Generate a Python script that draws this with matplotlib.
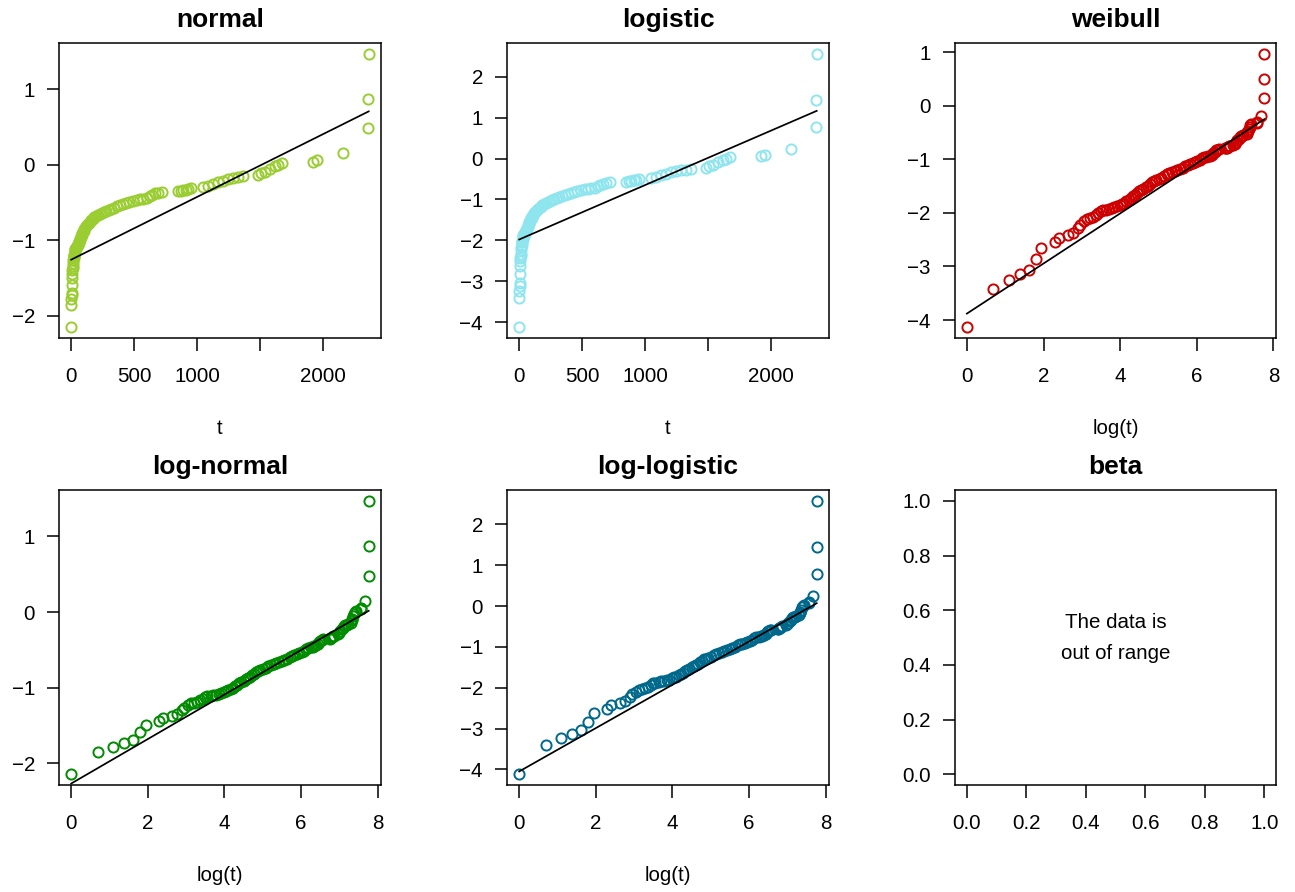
from statistics import NormalDist

import matplotlib
matplotlib.use('Agg')
import matplotlib.pyplot as plt
import numpy as np

plt.rcParams['font.family'] = ['Liberation Sans', 'DejaVu Sans']

# observed times and estimated cumulative probability at each time
t = [1, 2, 3, 4, 5, 6, 7, 10, 11, 14, 16, 18, 19, 21, 23, 25,
     27, 29, 31, 33, 35, 38, 41, 44, 47, 50,
     54, 57, 60, 64, 68, 72, 76, 80, 85, 90,
     95, 100, 106, 112, 118, 125, 132, 140, 150, 160,
     172, 185, 198, 212, 227, 243, 260, 280, 300, 320,
     340, 362, 385, 410, 435, 460, 490, 520,
     546, 572, 599, 625, 645, 665, 691, 718,
     850, 870, 889, 910, 929, 955,
     1047, 1087, 1127, 1166, 1206, 1245, 1285, 1325, 1364,
     1483, 1509, 1536, 1575, 1615, 1641, 1675,
     1923, 1950, 2156, 2353, 2357, 2361]
cdf = [.0160, .0319, .0377, .0420, .0454, .0557, .0676, .0751, .0811, .0851, .0892,
       .0973, .1029, .1089, .1141, .1153,
       .1175, .1219, .1266, .1314, .1326, .1339, .1364, .1376, .1402, .1415,
       .1455, .1482, .1510, .1552, .1581, .1640, .1685, .1732, .1779, .1828,
       .1878, .1913, .1965, .2018, .2073, .2129, .2167, .2205, .2244, .2304,
       .2365, .2428, .2470, .2513, .2557, .2601, .2646, .2692, .2761, .2808,
       .2856, .2905, .2954, .3003, .3054, .3130, .3170, .3200,
       .3228, .3262, .3300, .3372, .3446, .3520, .3557, .3594,
       .3632, .3650, .3669, .3707, .3745, .3783,
       .3840, .3897, .3994, .4090, .4168, .4247, .4305, .4337, .4388,
       .4443, .4562, .4641, .4773, .4920, .5000, .5080,
       .5160, .5227, .5596, .6844, .8078, .9292]

# fitted models: location / scale on the t or log(t) axis
model_names = ['normal', 'logistic', 'weibull', 'log-normal', 'log-logistic']
model_loc = [1512.6, 1484.0, 8.302, 7.708, 7.634]
model_scale = [1203.5, 749.2, 2.140, 3.40, 1.885]
model_colors = ['#9ACD32', '#8EE5EE', '#CD0000', '#008B00', '#00688B']


def q_normal(p):
    return np.array([NormalDist().inv_cdf(v) for v in p])


def q_logistic(p):
    return np.log(p / (1 - p))


def q_sev(p):
    return np.log(-np.log(1 - p))


def padded(v, frac=0.04):
    lo, hi = np.min(v), np.max(v)
    pad = (hi - lo) * frac
    return lo - pad, hi + pad


def style_axes(ax):
    for s in ax.spines.values():
        s.set_linewidth(1.1)
    ax.tick_params(axis='both', direction='out', length=9, width=1.1,
                   labelsize=14.8)
    ax.tick_params(axis='x', pad=12)
    ax.tick_params(axis='y', pad=8.5)


def main():
    W, H = 1295, 892
    fig = plt.figure(figsize=(W / 100, H / 100), dpi=100)

    lefts = [59.3, 507.3, 955.0]
    bottoms = [337.8, 785.2]
    aw, ah = 321.3, 295.2

    tt = np.array(t, dtype=float)
    pp = np.array(cdf)
    quant = {'normal': q_normal, 'logistic': q_logistic, 'weibull': q_sev,
             'log-normal': q_normal, 'log-logistic': q_logistic}
    on_log = {'normal': False, 'logistic': False, 'weibull': True,
              'log-normal': True, 'log-logistic': True}
    yticks = {'normal': np.arange(-2, 2), 'logistic': np.arange(-4, 3),
              'weibull': np.arange(-4, 2), 'log-normal': np.arange(-2, 2),
              'log-logistic': np.arange(-4, 3)}

    axes = []
    for i in range(6):
        r, c = divmod(i, 3)
        ax = fig.add_axes([lefts[c] / W, 1 - bottoms[r] / H, aw / W, ah / H])
        style_axes(ax)
        axes.append(ax)

    for i, name in enumerate(model_names):
        ax = axes[i]
        x = np.log(tt) if on_log[name] else tt
        y = quant[name](pp)
        ax.plot(x, y, 'o', mfc='none', mec=model_colors[i], ms=7.3, mew=1.4)
        xl = np.array([x.min(), x.max()])
        ax.plot(xl, (xl - model_loc[i]) / model_scale[i], color='black', lw=1.25)
        ax.set_xlim(*padded(x))
        ax.set_ylim(*padded(y))
        if on_log[name]:
            ax.set_xticks(np.arange(0, 9, 2))
            ax.set_xlabel('log(t)', fontsize=14.8)
        else:
            ax.set_xticks(np.arange(0, 2001, 500))
            ax.set_xticklabels(['0', '500', '1000', '', '2000'])
            ax.set_xlabel('t', fontsize=14.8)
        ax.set_yticks(yticks[name])
        ax.set_yticklabels([f'{v:d}'.replace('-', '\u2212') for v in yticks[name]])
        ax.xaxis.label.set_va('baseline')
        ax.xaxis.set_label_coords(0.5, -0.325)
        ax.set_title(name, fontsize=19, fontweight='bold', pad=11.5)

    # beta cannot be fitted to these data
    ax = axes[5]
    ax.set_xlim(-0.04, 1.04)
    ax.set_ylim(-0.04, 1.04)
    ticks = np.linspace(0, 1, 6)
    ax.set_xticks(ticks)
    ax.set_yticks(ticks)
    ax.set_xticklabels([f'{v:.1f}' for v in ticks])
    ax.set_yticklabels([f'{v:.1f}' for v in ticks])
    ax.text(0.5, 0.5, 'The data is\nout of range', ha='center', va='center',
            fontsize=14.8, linespacing=1.8)
    ax.set_title('beta', fontsize=19, fontweight='bold', pad=11.5)

    fig.savefig('out.png', dpi=100)


if __name__ == '__main__':
    main()
